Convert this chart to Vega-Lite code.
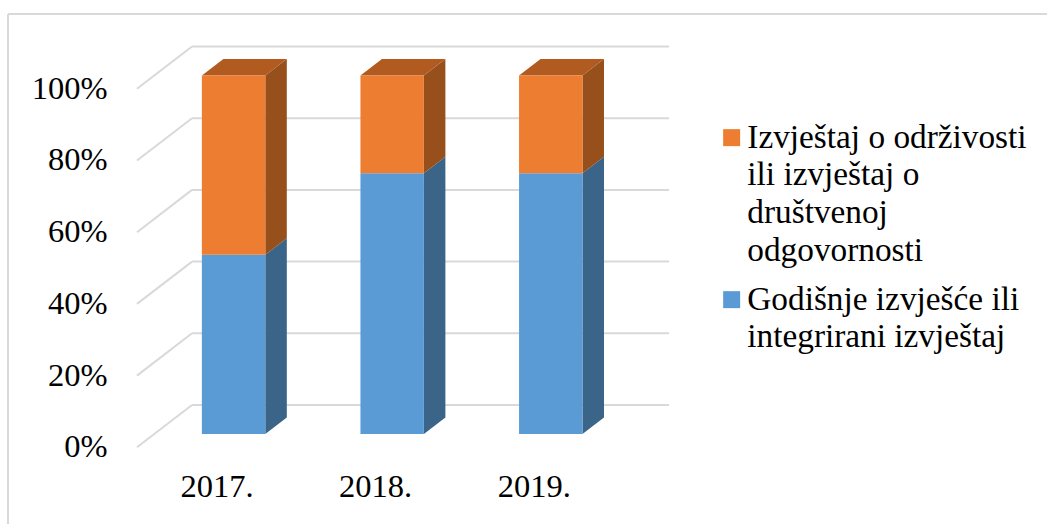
{
"$schema":"https://vega.github.io/schema/vega-lite/v6.json",
"width":1039,"height":510,"autosize":"none","padding":{"left":8,"top":14,"right":0,"bottom":0},
"background":"white",
"config":{"view":{"stroke":null},"font":"Liberation Serif"},
"datasets":{
"bars":[
{"year":2017,"series":"Godišnje izvješće ili integrirani izvještaj","y0":0,"y1":50},
{"year":2017,"series":"Izvještaj o održivosti ili izvještaj o društvenoj odgovornosti","y0":50,"y1":100},
{"year":2018,"series":"Godišnje izvješće ili integrirani izvještaj","y0":0,"y1":72.7},
{"year":2018,"series":"Izvještaj o održivosti ili izvještaj o društvenoj odgovornosti","y0":72.7,"y1":100},
{"year":2019,"series":"Godišnje izvješće ili integrirani izvještaj","y0":0,"y1":72.7},
{"year":2019,"series":"Izvještaj o održivosti ili izvještaj o društvenoj odgovornosti","y0":72.7,"y1":100}
],
"grid":[{"tick":0},{"tick":20},{"tick":40},{"tick":60},{"tick":80},{"tick":100}]
},
"layer":[
{"data":{"name":"grid"},"mark":{"type":"rule","color":"#d9d9d9","strokeWidth":2},
 "encoding":{"x":{"datum":2015.5776,"type":"quantitative","scale":{"domain":[2015.5776,2022.129],"nice":false,"zero":false},
   "axis":{"values":[2017,2018,2019],"title":null,"domain":false,"ticks":false,"grid":false,"labelExpr":"datum.value+'.'","labelFontSize":32.5,"labelColor":"black","labelOffset":-17,"labelPadding":0,"labelBaseline":"alphabetic","offset":-27.5,"labelFlush":false,"labelOverlap":false,"labelBound":false}},
   "y":{"datum":117.15,"type":"quantitative","scale":{"domain":[-25.1,117.15],"nice":false,"zero":false},
   "axis":{"values":[0,20,40,60,80,100],"title":null,"domain":false,"ticks":false,"grid":false,"labelExpr":"datum.value+'%'","labelFontSize":32.5,"labelColor":"black","labelOffset":12.7,"labelPadding":0,"offset":-99,"labelFlush":false,"labelOverlap":false,"labelBound":false}},
   "x2":{"datum":2022.129},"y2":{"datum":117.15}}},
{"data":{"name":"grid"},"mark":{"type":"rule","color":"#d9d9d9","strokeWidth":2},
 "encoding":{"x":{"datum":2015.5776,"type":"quantitative"},"x2":{"datum":2015.5776},"y":{"datum":117.15,"type":"quantitative"},"y2":{"datum":-25.1}}},
{"data":{"name":"grid"},"transform":[{"calculate":"datum.tick-3.71","as":"yf"},{"calculate":"datum.tick+8.09","as":"yb"}],
 "mark":{"type":"rule","color":"#d9d9d9","strokeWidth":2},
 "encoding":{"x":{"datum":2016.391,"type":"quantitative"},"x2":{"datum":2016.738},"y":{"field":"yf","type":"quantitative"},"y2":{"field":"yb"}}},
{"data":{"name":"grid"},"transform":[{"calculate":"datum.tick+8.09","as":"yb"}],
 "mark":{"type":"rule","color":"#d9d9d9","strokeWidth":2},
 "encoding":{"x":{"datum":2016.738,"type":"quantitative"},"x2":{"datum":2019.746},"y":{"field":"yb","type":"quantitative"}}},
{"data":{"name":"bars"},
 "transform":[{"calculate":"[0,1]","as":"d"},{"flatten":["d"]},{"calculate":"datum.year+0.2+datum.d*0.1356","as":"xs"},{"calculate":"datum.y0+datum.d*4.6","as":"ya"},{"calculate":"datum.y1+datum.d*4.6","as":"yc"},{"calculate":"datum.year+'-'+datum.y0","as":"key"}],
 "mark":{"type":"area","opacity":1,"orient":"vertical"},
 "encoding":{"x":{"field":"xs","type":"quantitative"},"y":{"field":"ya","type":"quantitative","stack":null},"y2":{"field":"yc"},"detail":{"field":"key"},
  "fill":{"condition":{"test":"datum.y0>0","value":"#97501b"},"value":"#3a6488"}}},
{"data":{"name":"bars"},
 "transform":[{"filter":"datum.y1==100"},{"calculate":"[0,1]","as":"d"},{"flatten":["d"]},{"calculate":"datum.year-0.2+datum.d*0.1356","as":"xa"},{"calculate":"datum.year+0.2+datum.d*0.1356","as":"xb"},{"calculate":"datum.y1+datum.d*4.6","as":"yt"}],
 "mark":{"type":"area","opacity":1,"orient":"horizontal","fill":"#b25b20"},
 "encoding":{"y":{"field":"yt","type":"quantitative"},"x":{"field":"xa","type":"quantitative","stack":null},"x2":{"field":"xb"},"detail":{"field":"year"}}},
{"data":{"name":"bars"},
 "transform":[{"calculate":"datum.year-0.2","as":"xl"},{"calculate":"datum.year+0.2","as":"xr"}],
 "mark":{"type":"rect"},
 "encoding":{"x":{"field":"xl","type":"quantitative"},"x2":{"field":"xr"},"y":{"field":"y0","type":"quantitative"},"y2":{"field":"y1"},
  "color":{"field":"series","type":"nominal","scale":{"domain":["Izvještaj o održivosti ili izvještaj o društvenoj odgovornosti","Godišnje izvješće ili integrirani izvještaj"],"range":["#ed7d31","#5b9bd5"]},
   "legend":{"orient":"none","legendX":707,"legendY":107,"title":null,"symbolType":"square","symbolSize":289,"symbolOpacity":1,"labelFontSize":33.3,"labelColor":"black","labelLimit":400,"labelOffset":-1,"rowPadding":14,
    "labelExpr":"indexof(datum.label,'Izv')==0?['Izvještaj o održivosti','ili izvještaj o','društvenoj','odgovornosti']:['Godišnje izvješće ili','integrirani izvještaj']",
    "encoding":{"labels":{"lineHeight":{"value":37.7}}}}}}}
]}
